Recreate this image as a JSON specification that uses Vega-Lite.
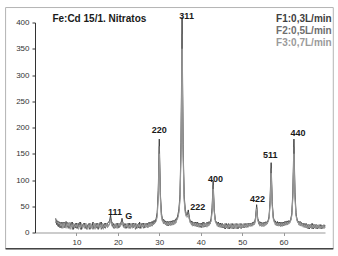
{
 "$schema": "https://vega.github.io/schema/vega-lite/v6.json",
 "width": 290, "height": 210,
 "autosize": {"type": "none"},
 "padding": {"left": 35, "top": 22.5, "right": 13, "bottom": 23.5},
 "background": "white",
 "config": {"view": {"stroke": null}, "font": "Liberation Sans"},
 "resolve": {"axis": {"x": "independent", "y": "independent"}},
 "datasets": {
  "xrd": [
   {"x":5,"F1":27,"F2":18,"F3":21},{"x":5.25,"F1":15,"F2":24,"F3":19},{"x":5.5,"F1":22,"F2":12,"F3":20},{"x":5.75,"F1":11,"F2":21,"F3":16},
   {"x":6,"F1":20,"F2":9,"F3":18},{"x":6.25,"F1":9,"F2":19,"F3":12},{"x":6.5,"F1":20,"F2":8,"F3":17},{"x":6.75,"F1":10,"F2":19,"F3":8},
   {"x":7,"F1":20,"F2":9,"F3":18},{"x":7.25,"F1":9,"F2":18,"F3":12},{"x":7.5,"F1":21,"F2":12,"F3":8},{"x":7.75,"F1":11,"F2":20,"F3":17},
   {"x":8,"F1":18,"F2":8,"F3":12},{"x":8.25,"F1":8,"F2":17,"F3":20},{"x":8.5,"F1":17,"F2":11,"F3":6},{"x":8.75,"F1":12,"F2":20,"F3":15},
   {"x":9,"F1":20,"F2":6,"F3":11},{"x":9.25,"F1":6,"F2":15,"F3":18},{"x":9.5,"F1":15,"F2":9,"F3":8},{"x":9.75,"F1":9,"F2":18,"F3":14},
   {"x":10,"F1":18,"F2":8,"F3":11},{"x":10.25,"F1":8,"F2":15,"F3":18},{"x":10.5,"F1":17,"F2":11,"F3":6},{"x":10.75,"F1":11,"F2":20,"F3":14},
   {"x":11,"F1":20,"F2":6,"F3":9},{"x":11.25,"F1":6,"F2":14,"F3":17},{"x":11.5,"F1":15,"F2":9,"F3":8},{"x":11.75,"F1":12,"F2":18,"F3":15},
   {"x":12,"F1":18,"F2":8,"F3":9},{"x":12.25,"F1":8,"F2":17,"F3":18},{"x":12.5,"F1":14,"F2":6,"F3":11},{"x":12.75,"F1":9,"F2":15,"F3":6},
   {"x":13,"F1":17,"F2":11,"F3":15},{"x":13.25,"F1":6,"F2":18,"F3":9},{"x":13.5,"F1":15,"F2":8,"F3":17},{"x":13.75,"F1":11,"F2":14,"F3":8},
   {"x":14,"F1":20,"F2":6,"F3":12},{"x":14.25,"F1":8,"F2":17,"F3":18},{"x":14.5,"F1":14,"F2":9,"F3":6},{"x":14.75,"F1":9,"F2":18,"F3":14},
   {"x":15,"F1":18,"F2":8,"F3":11},{"x":15.25,"F1":6,"F2":15,"F3":17},{"x":15.5,"F1":17,"F2":11,"F3":8},{"x":15.75,"F1":11,"F2":20,"F3":15},
   {"x":16,"F1":20,"F2":6,"F3":9},{"x":16.25,"F1":8,"F2":14,"F3":18},{"x":16.5,"F1":15,"F2":9,"F3":6},{"x":16.75,"F1":9,"F2":18,"F3":14},
   {"x":17,"F1":18,"F2":8,"F3":11},{"x":17.25,"F1":12,"F2":17,"F3":18},{"x":17.5,"F1":17,"F2":11,"F3":9},{"x":17.75,"F1":20,"F2":12,"F3":15},
   {"x":18,"F1":22,"F2":17,"F3":16},{"x":18.25,"F1":33,"F2":27,"F3":24},{"x":18.5,"F1":17,"F2":21,"F3":14},{"x":18.75,"F1":11,"F2":18,"F3":10},
   {"x":19,"F1":17,"F2":8,"F3":14},{"x":19.25,"F1":8,"F2":15,"F3":9},{"x":19.5,"F1":15,"F2":9,"F3":17},{"x":19.75,"F1":11,"F2":18,"F3":8},
   {"x":20,"F1":18,"F2":8,"F3":12},{"x":20.25,"F1":9,"F2":15,"F3":18},{"x":20.5,"F1":17,"F2":11,"F3":12},{"x":20.75,"F1":14,"F2":20,"F3":16},
   {"x":21,"F1":27,"F2":23,"F3":20},{"x":21.25,"F1":16,"F2":19,"F3":12},{"x":21.5,"F1":10,"F2":17,"F3":9},{"x":21.75,"F1":17,"F2":8,"F3":14},
   {"x":22,"F1":8,"F2":15,"F3":11},{"x":22.25,"F1":15,"F2":9,"F3":18},{"x":22.5,"F1":11,"F2":18,"F3":8},{"x":22.75,"F1":18,"F2":8,"F3":14},
   {"x":23,"F1":8,"F2":17,"F3":9},{"x":23.25,"F1":15,"F2":11,"F3":17},{"x":23.5,"F1":9,"F2":18,"F3":8},{"x":23.75,"F1":18,"F2":9,"F3":14},
   {"x":24,"F1":12,"F2":17,"F3":18},{"x":24.25,"F1":17,"F2":6,"F3":9},{"x":24.5,"F1":8,"F2":15,"F3":17},{"x":24.75,"F1":15,"F2":9,"F3":8},
   {"x":25,"F1":9,"F2":18,"F3":15},{"x":25.25,"F1":20,"F2":8,"F3":11},{"x":25.5,"F1":8,"F2":14,"F3":18},{"x":25.75,"F1":17,"F2":11,"F3":8},
   {"x":26,"F1":11,"F2":18,"F3":15},{"x":26.25,"F1":18,"F2":8,"F3":11},{"x":26.5,"F1":9,"F2":17,"F3":18},{"x":26.75,"F1":17,"F2":11,"F3":9},
   {"x":27,"F1":11,"F2":18,"F3":15},{"x":27.25,"F1":18,"F2":9,"F3":11},{"x":27.5,"F1":12,"F2":20,"F3":17},{"x":27.75,"F1":20,"F2":11,"F3":12},
   {"x":28,"F1":14,"F2":20,"F3":18},{"x":28.25,"F1":21,"F2":12,"F3":14},{"x":28.5,"F1":15,"F2":22,"F3":17},{"x":28.75,"F1":23,"F2":16,"F3":19},
   {"x":29,"F1":20,"F2":24,"F3":18},{"x":29.25,"F1":27,"F2":23,"F3":21},{"x":29.5,"F1":38,"F2":33,"F3":30},{"x":29.75,"F1":80,"F2":72,"F3":66},
   {"x":30,"F1":178,"F2":164,"F3":150},{"x":30.25,"F1":76,"F2":72,"F3":64},{"x":30.5,"F1":39,"F2":34,"F3":31},{"x":30.75,"F1":23,"F2":26,"F3":21},
   {"x":31,"F1":25,"F2":17,"F3":22},{"x":31.25,"F1":17,"F2":24,"F3":16},{"x":31.5,"F1":22,"F2":15,"F3":20},{"x":31.75,"F1":14,"F2":21,"F3":13},
   {"x":32,"F1":21,"F2":13,"F3":19},{"x":32.25,"F1":13,"F2":21,"F3":14},{"x":32.5,"F1":21,"F2":14,"F3":20},{"x":32.75,"F1":14,"F2":22,"F3":13},
   {"x":33,"F1":22,"F2":14,"F3":20},{"x":33.25,"F1":15,"F2":23,"F3":14},{"x":33.5,"F1":23,"F2":15,"F3":21},{"x":33.75,"F1":17,"F2":24,"F3":16},
   {"x":34,"F1":26,"F2":18,"F3":23},{"x":34.25,"F1":25,"F2":28,"F3":23},{"x":34.5,"F1":34,"F2":30,"F3":28},{"x":34.75,"F1":45,"F2":41,"F3":38},
   {"x":35,"F1":73,"F2":66,"F3":61},{"x":35.25,"F1":172,"F2":158,"F3":146},{"x":35.5,"F1":410,"F2":378,"F3":350},{"x":35.75,"F1":168,"F2":158,"F3":144},
   {"x":36,"F1":72,"F2":66,"F3":60},{"x":36.25,"F1":44,"F2":42,"F3":38},{"x":36.5,"F1":36,"F2":32,"F3":30},{"x":36.75,"F1":33,"F2":35,"F3":29},
   {"x":37,"F1":43,"F2":39,"F3":35},{"x":37.25,"F1":29,"F2":26,"F3":25},{"x":37.5,"F1":19,"F2":22,"F3":18},{"x":37.75,"F1":22,"F2":15,"F3":19},
   {"x":38,"F1":14,"F2":21,"F3":12},{"x":38.25,"F1":20,"F2":13,"F3":19},{"x":38.5,"F1":13,"F2":20,"F3":12},{"x":38.75,"F1":20,"F2":12,"F3":18},
   {"x":39,"F1":12,"F2":20,"F3":11},{"x":39.25,"F1":20,"F2":11,"F3":17},{"x":39.5,"F1":11,"F2":18,"F3":10},{"x":39.75,"F1":18,"F2":10,"F3":17},
   {"x":40,"F1":10,"F2":18,"F3":12},{"x":40.25,"F1":18,"F2":9,"F3":15},{"x":40.5,"F1":12,"F2":20,"F3":10},{"x":40.75,"F1":20,"F2":10,"F3":17},
   {"x":41,"F1":11,"F2":18,"F3":12},{"x":41.25,"F1":18,"F2":11,"F3":18},{"x":41.5,"F1":13,"F2":20,"F3":10},{"x":41.75,"F1":20,"F2":12,"F3":17},
   {"x":42,"F1":15,"F2":21,"F3":13},{"x":42.25,"F1":20,"F2":16,"F3":18},{"x":42.5,"F1":26,"F2":23,"F3":21},{"x":42.75,"F1":47,"F2":42,"F3":38},
   {"x":43,"F1":98,"F2":90,"F3":83},{"x":43.25,"F1":45,"F2":43,"F3":39},{"x":43.5,"F1":24,"F2":25,"F3":21},{"x":43.75,"F1":20,"F2":17,"F3":18},
   {"x":44,"F1":14,"F2":19,"F3":12},{"x":44.25,"F1":20,"F2":11,"F3":17},{"x":44.5,"F1":11,"F2":18,"F3":10},{"x":44.75,"F1":18,"F2":10,"F3":15},
   {"x":45,"F1":10,"F2":17,"F3":9},{"x":45.25,"F1":17,"F2":9,"F3":15},{"x":45.5,"F1":9,"F2":15,"F3":10},{"x":45.75,"F1":15,"F2":7,"F3":17},
   {"x":46,"F1":7,"F2":17,"F3":9},{"x":46.25,"F1":17,"F2":9,"F3":14},{"x":46.5,"F1":9,"F2":15,"F3":7},{"x":46.75,"F1":17,"F2":7,"F3":15},
   {"x":47,"F1":7,"F2":15,"F3":10},{"x":47.25,"F1":15,"F2":9,"F3":17},{"x":47.5,"F1":9,"F2":17,"F3":7},{"x":47.75,"F1":17,"F2":7,"F3":14},
   {"x":48,"F1":7,"F2":15,"F3":9},{"x":48.25,"F1":15,"F2":10,"F3":17},{"x":48.5,"F1":10,"F2":17,"F3":7},{"x":48.75,"F1":17,"F2":7,"F3":15},
   {"x":49,"F1":7,"F2":15,"F3":10},{"x":49.25,"F1":15,"F2":9,"F3":17},{"x":49.5,"F1":9,"F2":17,"F3":9},{"x":49.75,"F1":17,"F2":7,"F3":15},
   {"x":50,"F1":9,"F2":15,"F3":9},{"x":50.25,"F1":15,"F2":9,"F3":17},{"x":50.5,"F1":9,"F2":17,"F3":10},{"x":50.75,"F1":17,"F2":10,"F3":15},
   {"x":51,"F1":10,"F2":17,"F3":10},{"x":51.25,"F1":17,"F2":10,"F3":17},{"x":51.5,"F1":12,"F2":18,"F3":10},{"x":51.75,"F1":18,"F2":12,"F3":17},
   {"x":52,"F1":12,"F2":18,"F3":12},{"x":52.25,"F1":18,"F2":12,"F3":17},{"x":52.5,"F1":14,"F2":20,"F3":12},{"x":52.75,"F1":20,"F2":14,"F3":18},
   {"x":53,"F1":19,"F2":16,"F3":17},{"x":53.25,"F1":29,"F2":26,"F3":24},{"x":53.5,"F1":53,"F2":48,"F3":45},{"x":53.75,"F1":27,"F2":27,"F3":23},
   {"x":54,"F1":21,"F2":16,"F3":19},{"x":54.25,"F1":13,"F2":21,"F3":12},{"x":54.5,"F1":20,"F2":13,"F3":18},{"x":54.75,"F1":13,"F2":20,"F3":11},
   {"x":55,"F1":18,"F2":12,"F3":17},{"x":55.25,"F1":13,"F2":20,"F3":11},{"x":55.5,"F1":20,"F2":13,"F3":18},{"x":55.75,"F1":15,"F2":21,"F3":14},
   {"x":56,"F1":20,"F2":16,"F3":19},{"x":56.25,"F1":21,"F2":23,"F3":19},{"x":56.5,"F1":31,"F2":28,"F3":26},{"x":56.75,"F1":61,"F2":56,"F3":52},
   {"x":57,"F1":133,"F2":122,"F3":113},{"x":57.25,"F1":59,"F2":56,"F3":51},{"x":57.5,"F1":31,"F2":28,"F3":26},{"x":57.75,"F1":21,"F2":23,"F3":19},
   {"x":58,"F1":22,"F2":15,"F3":19},{"x":58.25,"F1":14,"F2":20,"F3":13},{"x":58.5,"F1":21,"F2":13,"F3":18},{"x":58.75,"F1":13,"F2":20,"F3":12},
   {"x":59,"F1":20,"F2":13,"F3":18},{"x":59.25,"F1":12,"F2":20,"F3":11},{"x":59.5,"F1":19,"F2":12,"F3":17},{"x":59.75,"F1":12,"F2":20,"F3":13},
   {"x":60,"F1":20,"F2":13,"F3":18},{"x":60.25,"F1":14,"F2":21,"F3":13},{"x":60.5,"F1":21,"F2":14,"F3":19},{"x":60.75,"F1":15,"F2":22,"F3":14},
   {"x":61,"F1":22,"F2":15,"F3":20},{"x":61.25,"F1":17,"F2":23,"F3":16},{"x":61.5,"F1":22,"F2":18,"F3":20},{"x":61.75,"F1":24,"F2":26,"F3":22},
   {"x":62,"F1":38,"F2":34,"F3":32},{"x":62.25,"F1":79,"F2":72,"F3":66},{"x":62.5,"F1":178,"F2":163,"F3":150},{"x":62.75,"F1":77,"F2":72,"F3":65},
   {"x":63,"F1":38,"F2":33,"F3":32},{"x":63.25,"F1":23,"F2":26,"F3":21},{"x":63.5,"F1":22,"F2":18,"F3":20},{"x":63.75,"F1":15,"F2":21,"F3":14},
   {"x":64,"F1":21,"F2":13,"F3":19},{"x":64.25,"F1":13,"F2":20,"F3":12},{"x":64.5,"F1":18,"F2":12,"F3":17},{"x":64.75,"F1":12,"F2":18,"F3":10},
   {"x":65,"F1":17,"F2":10,"F3":15},{"x":65.25,"F1":10,"F2":17,"F3":9},{"x":65.5,"F1":17,"F2":9,"F3":15},{"x":65.75,"F1":9,"F2":15,"F3":7},
   {"x":66,"F1":15,"F2":7,"F3":14},{"x":66.25,"F1":7,"F2":15,"F3":9},{"x":66.5,"F1":15,"F2":9,"F3":15},{"x":66.75,"F1":9,"F2":17,"F3":7},
   {"x":67,"F1":17,"F2":7,"F3":14},{"x":67.25,"F1":7,"F2":15,"F3":9},{"x":67.5,"F1":15,"F2":9,"F3":15},{"x":67.75,"F1":9,"F2":15,"F3":7},
   {"x":68,"F1":15,"F2":7,"F3":14},{"x":68.25,"F1":7,"F2":14,"F3":9},{"x":68.5,"F1":14,"F2":9,"F3":15},{"x":68.75,"F1":9,"F2":15,"F3":7},
   {"x":69,"F1":15,"F2":7,"F3":12},{"x":69.25,"F1":7,"F2":14,"F3":9},{"x":69.5,"F1":14,"F2":9,"F3":14},{"x":69.75,"F1":9,"F2":15,"F3":7},
   {"x":70,"F1":14,"F2":9,"F3":12}
  ],
  "peaks": [
   {"x":19.3,"y":39,"t":"111"},{"x":22.6,"y":32,"t":"G"},{"x":30.0,"y":195,"t":"220"},
   {"x":36.6,"y":413,"t":"311"},{"x":39.3,"y":48,"t":"222"},{"x":43.6,"y":102,"t":"400"},
   {"x":53.7,"y":64,"t":"422"},{"x":56.8,"y":148,"t":"511"},{"x":63.5,"y":190,"t":"440"}
  ],
  "leg": [
   {"s":"F1","t":"F1:0,3L/min","y":407},
   {"s":"F2","t":"F2:0,5L/min","y":384},
   {"s":"F3","t":"F3:0,7L/min","y":361}
  ]
 },
 "layer": [
  {
   "data": {"name": "xrd"},
   "transform": [{"fold": ["F1", "F2", "F3"], "as": ["series", "I"]}],
   "mark": {"type": "line", "strokeWidth": 1, "clip": false},
   "encoding": {
    "x": {"field": "x", "type": "quantitative", "scale": {"domain": [0, 70], "nice": false, "zero": false},
          "axis": {"values": [10, 20, 30, 40, 50, 60], "title": null, "grid": false, "domainColor": "#999999", "tickColor": "#999999", "tickSize": 3, "labelFont": "Liberation Sans", "labelFontSize": 8, "labelColor": "#333333", "labelPadding": 3}},
    "y": {"field": "I", "type": "quantitative", "scale": {"domain": [0, 400], "nice": false},
          "axis": {"values": [0, 50, 100, 150, 200, 250, 300, 350, 400], "labelOverlap": false, "title": null, "grid": false, "domainColor": "#333333", "tickColor": "#333333", "tickSize": 3, "labelFont": "Liberation Sans", "labelFontSize": 8, "labelColor": "#333333", "labelPadding": 3}},
    "color": {"field": "series", "type": "nominal", "scale": {"domain": ["F1", "F2", "F3"], "range": ["#404040", "#6e6e6e", "#9a9a9a"]}, "legend": null}
   }
  },
  {
   "data": {"name": "peaks"},
   "mark": {"type": "text", "fontWeight": "bold", "fontSize": 9, "color": "#1a1a1a", "baseline": "middle", "clip": false},
   "encoding": {
    "x": {"field": "x", "type": "quantitative", "axis": null},
    "y": {"field": "y", "type": "quantitative", "axis": null},
    "text": {"field": "t"}
   }
  },
  {
   "data": {"name": "leg"},
   "mark": {"type": "text", "fontWeight": "bold", "fontSize": 10, "align": "left", "baseline": "middle", "clip": false},
   "encoding": {
    "x": {"datum": 58.2, "type": "quantitative", "axis": null},
    "y": {"field": "y", "type": "quantitative", "axis": null},
    "text": {"field": "t"},
    "color": {"field": "s", "type": "nominal", "legend": null}
   }
  },
  {
   "data": {"values": [{}]},
   "mark": {"type": "text", "text": "Fe:Cd 15/1. Nitratos", "fontWeight": "bold", "fontSize": 10, "align": "left", "baseline": "middle", "color": "#1a1a1a", "clip": false},
   "encoding": {
    "x": {"datum": 4.2, "type": "quantitative", "axis": null},
    "y": {"datum": 406, "type": "quantitative", "axis": null}
   }
  },
  {
   "data": {"values": [{}]},
   "mark": {"type": "rect", "fill": "transparent", "stroke": "#b4b4b4", "strokeWidth": 1, "clip": false},
   "encoding": {
    "x": {"datum": -7.1, "type": "quantitative", "axis": null},
    "x2": {"datum": 72.0},
    "y": {"datum": -31, "type": "quantitative", "axis": null},
    "y2": {"datum": 428.5}
   }
  },
  {
   "data": {"values": [{}]},
   "mark": {"type": "rule", "stroke": "#444444", "strokeWidth": 1.5, "clip": false},
   "encoding": {
    "x": {"datum": -7.1, "type": "quantitative", "axis": null},
    "x2": {"datum": 72.0},
    "y": {"datum": -31, "type": "quantitative", "axis": null}
   }
  }
 ]
}
